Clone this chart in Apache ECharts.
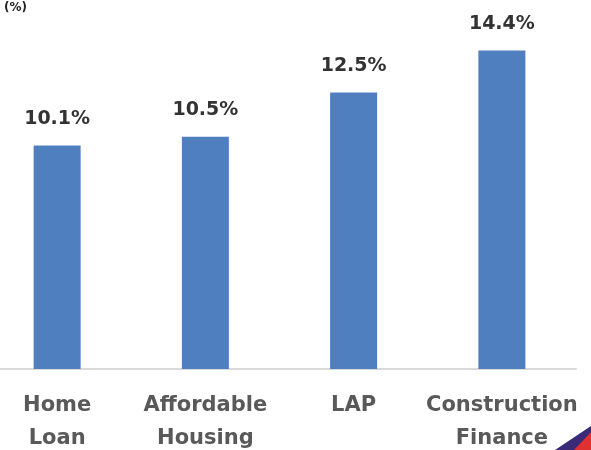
<!DOCTYPE html>
<html>
<head>
<meta charset="utf-8">
<script src="https://cdn.jsdelivr.net/npm/echarts@6/dist/echarts.min.js"></script>
<style>
  html, body { margin: 0; padding: 0; background: #fff; }
  #chart { width: 591px; height: 450px; }
</style>
</head>
<body>
<div id="chart"></div>
<script>
// Yield by product segment (%)
const categories = ['Home\nLoan', 'Affordable\nHousing', 'LAP', 'Construction\nFinance'];
const yieldValues = [10.1, 10.5, 12.5, 14.4];
const unitLabel = '(%)';

const chart = echarts.init(document.getElementById('chart'));
chart.setOption({
  animation: false,
  grid: { left: -17, right: 15, top: 15, bottom: 81, outerBoundsMode: 'none', containLabel: false },
  xAxis: {
    type: 'category',
    data: categories,
    axisLine: { lineStyle: { color: '#d9d9d9', width: 2 } },
    axisTick: { show: false },
    axisLabel: {
      interval: 0,
      color: '#595959',
      fontFamily: 'DejaVu Sans',
      fontWeight: 'bold',
      fontSize: 21,
      lineHeight: 33,
      margin: 20
    }
  },
  yAxis: {
    type: 'value',
    min: 0,
    max: 16,
    show: false,
    splitLine: { show: false }
  },
  graphic: [
    {
      type: 'text', left: 4, top: 2,
      style: { text: unitLabel, fill: '#222', font: 'bold 12px "DejaVu Sans"' }
    },
    {
      type: 'polygon',
      shape: { points: [[555, 450], [591, 426], [591, 450]] },
      style: { fill: '#3b2a78' }
    },
    {
      type: 'polygon',
      shape: { points: [[574, 450], [591, 432], [591, 450]] },
      style: { fill: '#e03030' }
    }
  ],
  series: [{
    type: 'bar',
    data: yieldValues,
    barWidth: 47,
    itemStyle: { color: '#4f7fbf' },
    label: {
      show: true,
      position: 'top',
      distance: 17,
      formatter: p => p.value.toFixed(1) + '%',
      color: '#333',
      fontFamily: 'DejaVu Sans',
      fontWeight: 'bold',
      fontSize: 19
    }
  }]
});
</script>
</body>
</html>
